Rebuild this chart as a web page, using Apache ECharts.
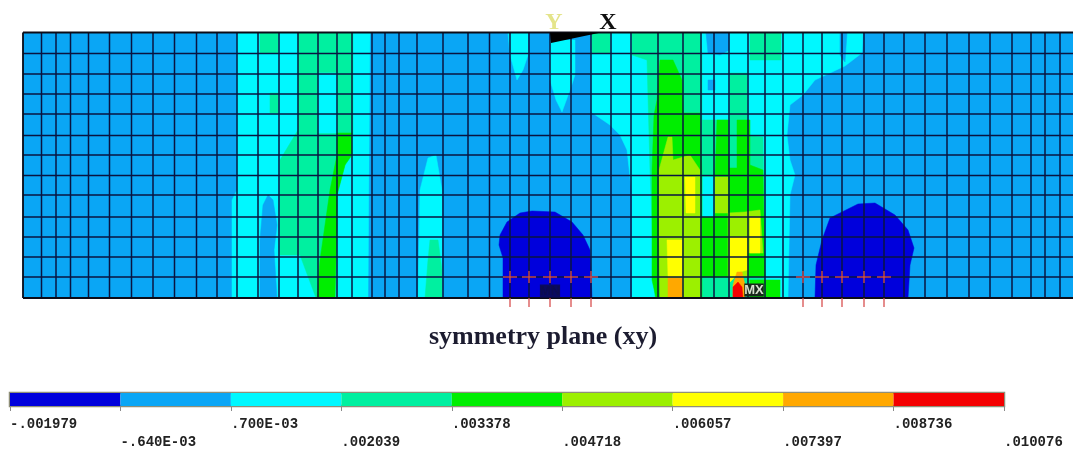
<!DOCTYPE html>
<html><head><meta charset="utf-8">
<style>html,body{margin:0;padding:0;background:#fff}#c{width:1073px;height:451px}</style>
<script src="https://cdn.jsdelivr.net/npm/echarts@6/dist/echarts.min.js"></script>
</head><body><div id="c"></div>
<script>
// Contour band colours and band edge values
var bandColors = ['#0000dc','#0aa6f5','#00f8ff','#00f0a0','#00ee00','#9cf000','#ffff00','#ffa800','#f40000'];
var bandLabels = ['-.001979','-.640E-03','.700E-03','.002039','.003378','.004718','.006057','.007397','.008736','.010076'];
// Mesh node positions (x along the beam, y height above the symmetry edge)
var meshX = [18.5,33,47.5,65.5,86.5,108.5,130,151.5,173.5,194,214,235,256,275,295,314,329,349,362,376,394,420,445,466.5,487,506,527,548,568,588,608,635,660,678,691,706,725,742,760,780,799,819,841,861,881,902,924,946,967,989,1008,1022,1037];
var meshY = [244.5,224,204,184,162.5,143,122.5,103,81,61,41,21];
var xMax = 1050, yMax = 265.5;
// Loaded / constrained nodes
var supportA = [487,506,527,548,568];
var supportB = [780,799,819,841,861];
// Contour regions, in mesh coordinates, painted in this order
var base1 = [[[0,0],[1050,0],[1050,265.5],[0,265.5]]];
var cyan = [
 [[214,265.5],[347,265.5],[345,0],[209,0],[209,98],[214,108]],
 [[397,108],[405,140],[413,143],[419,108],[419,0],[395,0]],
 [[485,265.5],[505,265.5],[505,243],[500,228],[494,218],[487,243]],
 [[527,258],[552,258],[552,223],[547,208],[539,186],[533,198],[527,218]],
 [[568,265.5],[840,265.5],[839,245],[822,232],[792,218],[780,203],[767,193],[764,163],[767,138],[772,123],[767,103],[765,0],[609,0],[609,103],[604,148],[597,163],[587,173],[568,186]]
];
var patches1 = [
 [[245,103],[250,98],[254,73],[251,48],[254,0],[237,0],[237,58],[240,93]],
 [[683,265.5],[706,265.5],[706,248],[697,243],[685,245]],
 [[817,265.5],[824,265.5],[822,236],[817,243]],
 [[685,218],[692,218],[692,208],[685,208]]
];
var sea = [
 [[237,265.5],[255,265.5],[255,245],[237,245]],
 [[275,265.5],[330,265.5],[330,163],[322,133],[314,103],[312,0],[293,0],[277,43],[257,43],[257,138],[275,168]],
 [[247,205],[255,205],[255,185],[247,185]],
 [[407,58],[415,58],[419,28],[419,0],[402,0],[405,38]],
 [[569,265.5],[587,265.5],[587,245],[569,245]],
 [[609,265.5],[677,265.5],[679,243],[679,178],[707,178],[707,225],[724,225],[724,163],[740,161],[742,0],[632,0],[627,128],[624,238],[609,243]],
 [[727,265.5],[758,265.5],[758,238],[727,238]]
];
var cyanOver = [
 [[679,121],[692,121],[692,81],[679,81]],
 [[295,225],[314,225],[314,165],[295,165]]
];
var green = [
 [[314,165],[329,165],[329,143],[322,133],[314,103],[314,73],[313,38],[312,0],[294,0],[297,38],[302,73],[307,108],[314,143]],
 [[637,238],[650,238],[659,218],[660,185],[677,185],[679,121],[679,0],[633,0],[629,18],[629,128],[631,183],[634,198]],
 [[694,178],[705,178],[706,130],[714,130],[714,178],[727,178],[727,133],[740,128],[742,21],[679,21],[679,81],[692,81],[692,121]],
 [[727,18],[757,18],[757,0],[727,0]]
];
var lime = [
 [[645,161],[649,161],[650,138],[667,143],[677,128],[678,0],[637,0],[636,58],[636,128]],
 [[692,121],[705,121],[705,85],[692,85]],
 [[705,85],[722,86],[737,88],[740,45],[725,45],[725,21],[705,21]]
];
var yellow = [
 [[662,121],[672,121],[672,85],[663,85]],
 [[644,58],[659,58],[659,21],[645,21]],
 [[707,61],[724,61],[724,28],[717,26],[707,16]],
 [[727,81],[737,81],[737,45],[727,45]]
];
var orange = [
 [[645,20],[659,20],[659,0],[645,0]],
 [[710,13],[714,26],[719,26],[722,13],[722,0],[710,0]]
];
var red = [ [[710,0],[710,11],[715,16],[719,11],[720,0]] ];
var deep = [
 [[480,0],[480,40],[476,53],[477,63],[484,76],[497,85],[509,87],[532,86],[549,76],[560,63],[567,48],[569,0]],
 [[792,0],[793,33],[799,58],[807,80],[819,86],[835,94],[852,95],[872,83],[885,68],[891,50],[887,33],[885,0]]
];
var triadWedge = [[527,265.5],[578,265.5],[528,255]];
var noteNames = ['Y','X','MN','MX'];
var noteX = [531,585,527,731];
var noteY = [275,275,7,8];

var regions = [];
[[1,base1],[2,cyan],[1,patches1],[3,sea],[2,cyanOver],[4,green],[5,lime],[6,yellow],[7,orange],[8,red],[0,deep]].forEach(function(l){
  l[1].forEach(function(p){ regions.push({lvl:l[0],pts:p}); });
});

var chart = echarts.init(document.getElementById('c'),null,{renderer:'canvas'});
var meshStroke = '#0a1440';
function seg(api,a,b,style){
  var p=api.coord(a),q=api.coord(b);
  return {type:'line',shape:{x1:p[0],y1:p[1],x2:q[0],y2:q[1]},style:style};
}
var noteStyle = [
  {fill:'#e4e48a',font:'bold 24px "Liberation Serif"'},
  {fill:'#101010',font:'bold 24px "Liberation Serif"'},
  {fill:'#0c0c50',font:'bold 13px "Liberation Sans"',backgroundColor:'#0a0a60'},
  {fill:'#d8e0d0',font:'bold 13px "Liberation Sans"',backgroundColor:'#18281c'}
];
chart.setOption({
  animation:false,
  backgroundColor:'#ffffff',
  title:{text:'symmetry plane (xy)',left:538,top:319,textAlign:'center',
    textStyle:{fontFamily:'Liberation Serif',fontWeight:'bold',fontSize:26,color:'#1c1c30'}},
  grid:[
    {left:23,top:32.5,width:1050,height:265.5,show:false},
    {left:10,top:393,width:994,height:14.5,show:true,borderColor:'#8f8f78',borderWidth:2.5,backgroundColor:'transparent'}
  ],
  xAxis:[
    {gridIndex:0,type:'value',min:0,max:xMax,show:false},
    {gridIndex:1,type:'value',min:0,max:9,interval:1,
      axisLine:{show:false},splitLine:{show:false},
      axisTick:{show:true,length:5,lineStyle:{color:'#8a8a8a'}},
      axisLabel:{show:true,margin:9,hideOverlap:false,showMinLabel:true,showMaxLabel:true,align:'left',
        fontFamily:'Liberation Mono',fontSize:14,lineHeight:18,color:'#222222',fontWeight:'bold',
        formatter:function(v){var t=bandLabels[v];return v%2? '\n'+t : t+'\n';}}}
  ],
  yAxis:[
    {gridIndex:0,type:'value',min:0,max:yMax,show:false},
    {gridIndex:1,type:'value',min:0,max:1,show:false}
  ],
  series:[
    {type:'custom',name:'contours',xAxisIndex:0,yAxisIndex:0,silent:true,
      data:regions.map(function(r,i){return [i];}),encode:{x:0},
      renderItem:function(p,api){
        var r=regions[p.dataIndex];
        return {type:'polygon',shape:{points:r.pts.map(function(q){return api.coord(q);})},
          style:{fill:bandColors[r.lvl],stroke:bandColors[r.lvl],lineWidth:0.5}};
      }},
    {type:'custom',name:'mesh',xAxisIndex:0,yAxisIndex:0,silent:true,
      data:meshX.map(function(v){return [v,0];}).concat(meshY.map(function(v){return [0,v];})),encode:{x:0,y:1},
      renderItem:function(p,api){
        var vx=api.value(0),vy=api.value(1);
        var st={stroke:meshStroke,lineWidth:1.5};
        return vx? seg(api,[vx,0],[vx,yMax],st) : seg(api,[0,vy],[xMax,vy],st);
      }},
    {type:'custom',name:'frame',xAxisIndex:0,yAxisIndex:0,silent:true,
      data:[[0]],encode:{x:0},clip:false,
      renderItem:function(p,api){
        var st={stroke:'#0c0c18',lineWidth:1.8};
        return {type:'group',children:[
          seg(api,[0,yMax],[xMax,yMax],st),
          seg(api,[0,0],[xMax,0],{stroke:'#0c0c18',lineWidth:2.2}),
          seg(api,[0,0],[0,yMax],st),
          {type:'polygon',shape:{points:triadWedge.map(function(q){return api.coord(q);})},style:{fill:'#000000'}}
        ]};
      }},
    {type:'custom',name:'supports',xAxisIndex:0,yAxisIndex:0,silent:true,clip:false,
      data:supportA.concat(supportB).map(function(v){return [v,0];}),encode:{x:0,y:1},
      renderItem:function(p,api){
        var x=api.value(0),st={stroke:'#d85050',lineWidth:1.3};
        return {type:'group',children:[
          seg(api,[x,-9],[x,0],st),
          seg(api,[x-7,21],[x+7,21],st),
          seg(api,[x,15],[x,27],st)
        ]};
      }},
    {type:'custom',name:'notes',xAxisIndex:0,yAxisIndex:0,silent:true,clip:false,
      data:noteX.map(function(v,i){return [v,noteY[i]];}),encode:{x:0,y:1},
      renderItem:function(p,api){
        var c=api.coord([api.value(0),api.value(1)]),d=p.dataIndex,n=noteStyle[d];
        var st={text:noteNames[d],x:c[0],y:c[1],fill:n.fill,font:n.font,align:'center',verticalAlign:'middle'};
        if(n.backgroundColor) st.backgroundColor=n.backgroundColor;
        return {type:'text',style:st};
      }},
    {type:'custom',name:'legend',xAxisIndex:1,yAxisIndex:1,silent:true,
      data:bandColors.map(function(c,i){return [i,i+1];}),encode:{x:[0,1]},
      renderItem:function(p,api){
        var a=api.coord([api.value(0),0]),b=api.coord([api.value(1),1]);
        return {type:'rect',shape:{x:a[0],y:b[1],width:b[0]-a[0],height:a[1]-b[1]},style:{fill:bandColors[p.dataIndex]}};
      }}
  ]
});
</script></body></html>
